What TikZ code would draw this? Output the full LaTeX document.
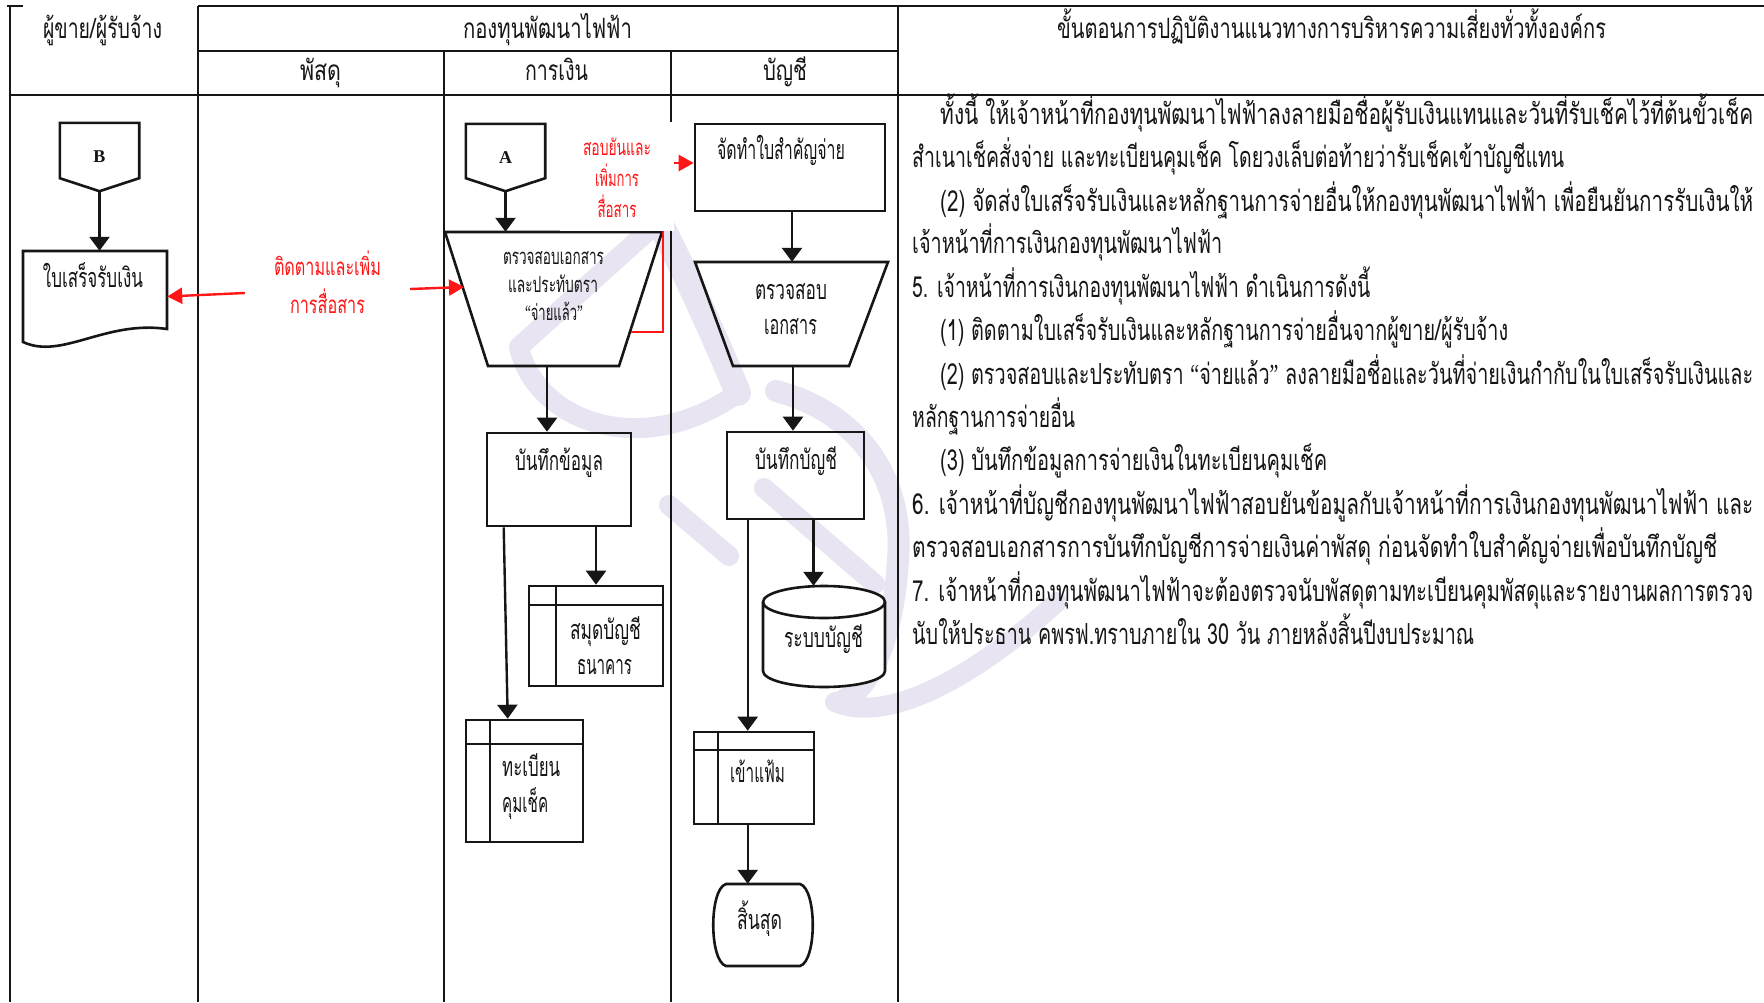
\documentclass[tikz,border=0pt]{standalone}
\usepackage{fontspec}
\usepackage{graphicx}
\usetikzlibrary{arrows.meta,calc}
\newfontfamily\thai[Script=Thai]{Loma}
\newfontfamily\lserif{Liberation Serif}
% set a line of text to an exact width, keeping its height
\newcommand\fw[2]{\resizebox{#1pt}{\height}{#2}}
\definecolor{ink}{RGB}{22,22,22}
\definecolor{alert}{RGB}{255,22,22}
\definecolor{wm}{RGB}{233,228,241}

\begin{document}
\begin{tikzpicture}[x=1pt,y=-1pt,
  grid/.style={line width=2.6pt, draw=ink},
  shp/.style={line width=2.6pt, draw=ink, line join=miter},
  frame/.style={draw=ink, line width=2.6pt, inner sep=0, rectangle},
  slot/.style={draw=none, inner sep=0, rectangle},
  arr/.style={line width=2.4pt, draw=ink, -{Triangle[width=20pt,length=14pt]}},
  redarr/.style={line width=2.4pt, draw=alert, -{Triangle[width=16pt,length=15pt]}},
  tx/.style={inner sep=0, anchor=base, text=ink},
  fhead/.style={font=\thai\fontsize{28}{30}\selectfont},
  fbody/.style={font=\thai\fontsize{29}{30}\selectfont},
  fshape/.style={font=\thai\fontsize{27}{28}\selectfont},
  fsmall/.style={font=\thai\fontsize{22}{24}\selectfont},
  fred/.style={font=\thai\fontsize{24}{26}\selectfont, text=alert},
  fletter/.style={font=\lserif\bfseries\fontsize{18}{20}\selectfont, text=ink},
  emblem/.style={draw=wm, line cap=round, line join=round},
]
\useasboundingbox (0,0) rectangle (1764,1002);
\fill[white] (0,0) rectangle (1764,1002);

% ---------- faint emblem behind the chart ----------
% loop
\draw[emblem, line width=20pt] (659,221) -- (519,347)
  .. controls (535,420) and (640,462) .. (738,393);
\draw[emblem, line width=26pt] (659,221) .. controls (680,262) and (712,330) .. (738,393);
% short stroke under the loop
\draw[emblem, line width=20pt] (669,505) -- (729,556);
% diagonal past the account box
\draw[emblem, line width=20pt] (764,488) -- (875,584);
% large right sweep
\draw[emblem, line width=22pt] (776,391) .. controls (850,410) and (905,470) .. (898,560)
  .. controls (893,640) and (870,690) .. (840,702);
% tail running into the text column
\draw[emblem, line width=20pt] (835,702) .. controls (880,722) and (960,690) .. (1057,602);

% ---------- table grid ----------
\draw[grid] (7,6) -- (23,6);
\draw[grid] (198,6) -- (1764,6);
\draw[grid] (10,6) -- (10,1002);
\draw[grid] (198,6) -- (198,1002);
\draw[grid] (198,51) -- (898,51);
\draw[grid] (10,95) -- (1764,95);
\draw[grid] (444,51) -- (444,1002);
\draw[grid] (671,51) -- (671,1002);
\draw[grid] (898,6) -- (898,1002);

% ---------- header ----------
\node[tx, fhead] (hVendor) at (102.5,38) {\fw{119}{ผู้ขาย/ผู้รับจ้าง}};
\node[tx, fhead] (hFund) at (547.5,38) {\fw{169}{กองทุนพัฒนาไฟฟ้า}};
\node[tx, fhead] (hSteps) at (1331.5,38) {\fw{549}{ขั้นตอนการปฏิบัติงานแนวทางการบริหารความเสี่ยงทั่วทั้งองค์กร}};
\node[tx, fhead] (hSupply) at (320.5,80) {\fw{41}{พัสดุ}};
\node[tx, fhead] (hFinance) at (556.5,80) {\fw{63}{การเงิน}};
\node[tx, fhead] (hAccount) at (785,80) {\fw{44}{บัญชี}};

% ---------- shape frames ----------
\node[slot, minimum width=79pt, minimum height=68pt, fletter] (conB) at (99.5,157) {B};
\draw[shp] (conB.north west) -- (conB.north east) -- ([yshift=13pt]conB.south east)
  -- (conB.south) -- ([yshift=13pt]conB.south west) -- cycle;

\node[slot, minimum width=79pt, minimum height=67pt, fletter] (conA) at (505.5,157.5) {A};
\draw[shp] (conA.north west) -- (conA.north east) -- ([yshift=13pt]conA.south east)
  -- (conA.south) -- ([yshift=13pt]conA.south west) -- cycle;

\node[slot, minimum width=144pt, minimum height=91pt] (receipt) at (95,296.5) {};
\draw[shp] (23,251) -- (167,251) -- (167,329)
  .. controls (105,320) and (62,360) .. (23,342) -- cycle;

\node[slot, minimum width=217pt, minimum height=134pt] (check) at (553.5,299) {};
\draw[shp] (445,232) -- (662,232) -- (619,366) -- (488,366) -- cycle;

\node[frame, minimum width=190pt, minimum height=87pt] (voucher) at (790,167.5) {};

\node[slot, minimum width=193pt, minimum height=104pt] (review) at (791.5,314) {};
\draw[shp] (695,262) -- (888,262) -- (849,366) -- (733,366) -- cycle;

\node[frame, minimum width=144pt, minimum height=93pt] (record) at (559,479.5) {};
\node[frame, minimum width=137pt, minimum height=87pt] (post) at (795.5,475.5) {};

\node[frame, minimum width=134pt, minimum height=100pt] (bank) at (596,636) {};
\draw[shp] (556,586) -- (556,686) (529,605) -- (663,605);

\node[frame, minimum width=117pt, minimum height=122pt] (ledger) at (524.5,781) {};
\draw[shp] (490,720) -- (490,842) (466,744) -- (583,744);

\node[frame, minimum width=120pt, minimum height=92pt] (filing) at (754,778) {};
\draw[shp] (718,732) -- (718,824) (694,750) -- (814,750);

\node[slot, minimum width=122pt, minimum height=101pt] (system) at (824,636.5) {};
\fill[white] (763,602) -- (763,671)
  arc[start angle=180, end angle=360, x radius=61pt, y radius=16pt] -- (885,602)
  arc[start angle=0, end angle=180, x radius=61pt, y radius=16pt] -- cycle;
\draw[shp] (763,602) -- (763,671)
  arc[start angle=180, end angle=360, x radius=61pt, y radius=16pt] -- (885,602);
\draw[shp] (824,602) ellipse[x radius=61pt, y radius=16pt];

\node[slot, minimum width=100pt, minimum height=82pt] (finish) at (763,925) {};
\draw[shp] (726,884) -- (800,884) .. controls (817,889) and (817,961) .. (800,966)
  -- (726,966) .. controls (709,961) and (709,889) .. (726,884) -- cycle;

% ---------- connectors ----------
\coordinate (checkIn) at (464,287);
\coordinate (checkOut) at (631,332);
\coordinate (bend) at (663,332);

\draw[arr] (conB.south) -- (conB.south |- receipt.north);
\draw[arr] (conA.south) -- (conA.south |- check.north);
\draw[arr] ([xshift=-6.5pt]check.south) -- ([xshift=-6.5pt]check.south |- record.north);
\draw[arr] (record.south -| bank.north) -- (bank.north);
\draw[arr] ([xshift=18pt]record.south west) -- ([xshift=43pt]ledger.north west);
\draw[arr] ([xshift=2pt]voucher.south) -- ([xshift=2pt]voucher.south |- review.north);
\draw[arr] ([xshift=1.5pt]review.south) -- ([xshift=1.5pt]review.south |- post.north);
\draw[arr] ([xshift=18pt]post.south) -- ([xshift=18pt]post.south |- system.north);
\draw[arr] ([xshift=22pt]post.south west) -- ([xshift=22pt]post.south west |- filing.north);
\draw[arr] ([xshift=55pt]filing.south west) -- ([xshift=55pt]filing.south west |- finish.north);

\draw[redarr, line join=miter] (checkOut) -- (bend) |- ([yshift=4.5pt]voucher.west);

% red notes
\node[inner sep=0, fred] (follow) at (327.5,289)
  {\parbox[c][76pt][t]{165pt}{\centering\fontsize{24}{38}\selectfont
   \rule{0pt}{19pt}\fw{107}{ติดตามและเพิ่ม}\\\fw{75}{การสื่อสาร}}};
\draw[redarr] ([yshift=-4pt]follow.west) -- (receipt.east);
\draw[redarr] (follow.east) -- (checkIn);

\node[inner sep=0, fill=white, text=alert, font=\thai] (confirm) at (617,176.5)
  {\parbox[c][109pt][t]{114pt}{\centering\fontsize{22}{31}\selectfont
   \rule{0pt}{33pt}\fw{68}{สอบยันและ}\\\fw{44}{เพิ่มการ}\\\fw{39}{สื่อสาร}}};

% ---------- texts inside shapes ----------
\node[tx, fshape] (receiptT) at (93,287) {\fw{100}{ใบเสร็จรับเงิน}};
\node[tx, fsmall] (checkT1) at (553.5,264) {\fw{101}{ตรวจสอบเอกสาร}};
\node[tx, fsmall] (checkT2) at (553,292) {\fw{90}{และประทับตรา}};
\node[tx, fsmall] (checkT3) at (554,320) {\fw{58}{{\lserif “}จ่ายแล้ว{\lserif ”}}};
\node[tx, fshape] (voucherT) at (781,159) {\fw{128}{จัดทำใบสำคัญจ่าย}};
\node[tx, fshape] (reviewT1) at (791,299) {\fw{72}{ตรวจสอบ}};
\node[tx, fshape] (reviewT2) at (790.5,334) {\fw{53}{เอกสาร}};
\node[tx, fshape] (recordT) at (559,470) {\fw{88}{บันทึกข้อมูล}};
\node[tx, fshape] (postT) at (796,469) {\fw{82}{บันทึกบัญชี}};
\node[tx, fshape] (bankT1) at (605.5,639) {\fw{71}{สมุดบัญชี}};
\node[tx, fshape] (bankT2) at (604.5,674) {\fw{55}{ธนาคาร}};
\node[tx, fshape] (systemT) at (823.5,647) {\fw{79}{ระบบบัญชี}};
\node[tx, fshape, anchor=base west] (ledgerT1) at (502,776) {\fw{58}{ทะเบียน}};
\node[tx, fshape, anchor=base west] (ledgerT2) at (502,812) {\fw{46}{คุมเช็ค}};
\node[tx, fshape] (filingT) at (757.5,782) {\fw{55}{เข้าแฟ้ม}};
\node[tx, fshape] (finishT) at (759.5,929) {\fw{45}{สิ้นสุด}};

% ---------- procedure text ----------
\begin{scope}[every node/.style={tx, fbody, anchor=base west}]
\node (p1) at (940,124) {\fw{813}{ทั้งนี้ ให้เจ้าหน้าที่กองทุนพัฒนาไฟฟ้าลงลายมือชื่อผู้รับเงินแทนและวันที่รับเช็คไว้ที่ต้นขั้วเช็ค}};
\node (p2) at (912,167) {\fw{652}{สำเนาเช็คสั่งจ่าย และทะเบียนคุมเช็ค โดยวงเล็บต่อท้ายว่ารับเช็คเข้าบัญชีแทน}};
\node (p3) at (940,211) {\fw{813}{(2) จัดส่งใบเสร็จรับเงินและหลักฐานการจ่ายอื่นให้กองทุนพัฒนาไฟฟ้า เพื่อยืนยันการรับเงินให้}};
\node (p4) at (912,253) {\fw{310}{เจ้าหน้าที่การเงินกองทุนพัฒนาไฟฟ้า}};
\node (p5) at (912,297) {\fw{458}{5. เจ้าหน้าที่การเงินกองทุนพัฒนาไฟฟ้า ดำเนินการดังนี้}};
\node (p6) at (940,340) {\fw{568}{(1) ติดตามใบเสร็จรับเงินและหลักฐานการจ่ายอื่นจากผู้ขาย/ผู้รับจ้าง}};
\node (p7) at (940,384) {\fw{813}{(2) ตรวจสอบและประทับตรา {\lserif “}จ่ายแล้ว{\lserif ”} ลงลายมือชื่อและวันที่จ่ายเงินกำกับในใบเสร็จรับเงินและ}};
\node (p8) at (912,427) {\fw{163}{หลักฐานการจ่ายอื่น}};
\node (p9) at (940,470) {\fw{387}{(3) บันทึกข้อมูลการจ่ายเงินในทะเบียนคุมเช็ค}};
\node (p10) at (912,514) {\fw{841}{6. เจ้าหน้าที่บัญชีกองทุนพัฒนาไฟฟ้าสอบยันข้อมูลกับเจ้าหน้าที่การเงินกองทุนพัฒนาไฟฟ้า และ}};
\node (p11) at (912,557) {\fw{805}{ตรวจสอบเอกสารการบันทึกบัญชีการจ่ายเงินค่าพัสดุ ก่อนจัดทำใบสำคัญจ่ายเพื่อบันทึกบัญชี}};
\node (p12) at (912,601) {\fw{841}{7. เจ้าหน้าที่กองทุนพัฒนาไฟฟ้าจะต้องตรวจนับพัสดุตามทะเบียนคุมพัสดุและรายงานผลการตรวจ}};
\node (p13) at (912,644) {\fw{562}{นับให้ประธาน คพรฟ.ทราบภายใน 30 วัน ภายหลังสิ้นปีงบประมาณ}};
\end{scope}
\end{tikzpicture}
\end{document}
